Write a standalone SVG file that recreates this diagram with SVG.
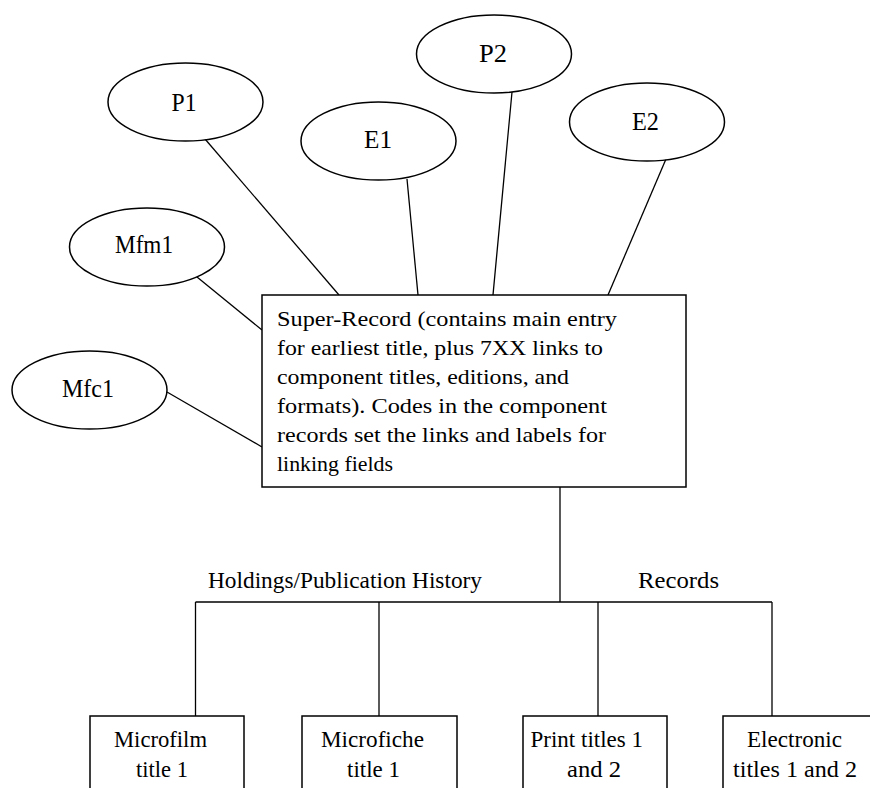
<svg xmlns="http://www.w3.org/2000/svg" width="870" height="788" viewBox="0 0 870 788">
<style>
.sh{fill:#fff;stroke:#000;stroke-width:1.5}
.ln{stroke:#000;stroke-width:1.3;fill:none}
text{font-family:"Liberation Serif","Times New Roman",serif;fill:#000}
.el{font-size:25px}
.bx{font-size:22px}
.lb{font-size:22.5px}
</style>
<rect width="870" height="788" fill="#fff"/>
<g id="connectors">
<line class="ln" x1="205" y1="139" x2="339" y2="295"/>
<line class="ln" x1="407" y1="179" x2="418" y2="295"/>
<line class="ln" x1="512" y1="92" x2="493" y2="295"/>
<line class="ln" x1="666" y1="159" x2="608" y2="295"/>
<line class="ln" x1="197" y1="277" x2="262" y2="330"/>
<line class="ln" x1="167" y1="392" x2="262" y2="447"/>
<line class="ln" x1="560" y1="487" x2="560" y2="602"/>
<line class="ln" x1="195.5" y1="602" x2="772" y2="602"/>
<line class="ln" x1="195.5" y1="602" x2="195.5" y2="716"/>
<line class="ln" x1="379" y1="602" x2="379" y2="716"/>
<line class="ln" x1="598" y1="602" x2="598" y2="716"/>
<line class="ln" x1="772" y1="602" x2="772" y2="716"/>
</g>
<g id="P1"><ellipse class="sh" cx="185.5" cy="102" rx="77.5" ry="39"/><text class="el" x="171.5" y="111" textLength="25" lengthAdjust="spacingAndGlyphs">P1</text></g>
<g id="E1"><ellipse class="sh" cx="378.5" cy="141" rx="77.5" ry="39"/><text class="el" x="364" y="148" textLength="28" lengthAdjust="spacingAndGlyphs">E1</text></g>
<g id="P2"><ellipse class="sh" cx="494" cy="54" rx="77.5" ry="39"/><text class="el" x="479" y="62" textLength="28" lengthAdjust="spacingAndGlyphs">P2</text></g>
<g id="E2"><ellipse class="sh" cx="647" cy="122" rx="77.5" ry="39"/><text class="el" x="632" y="130" textLength="27" lengthAdjust="spacingAndGlyphs">E2</text></g>
<g id="Mfm1"><ellipse class="sh" cx="147" cy="247" rx="77.5" ry="39"/><text class="el" x="115" y="253" textLength="58" lengthAdjust="spacingAndGlyphs">Mfm1</text></g>
<g id="Mfc1"><ellipse class="sh" cx="89.5" cy="390" rx="77.5" ry="39"/><text class="el" x="62" y="397" textLength="52" lengthAdjust="spacingAndGlyphs">Mfc1</text></g>
<g id="super-record">
<rect class="sh" x="262" y="295" width="424" height="192"/>
<text class="bx" x="277" y="326" textLength="340" lengthAdjust="spacingAndGlyphs">Super-Record (contains main entry</text>
<text class="bx" x="277" y="355" textLength="326" lengthAdjust="spacingAndGlyphs">for earliest title, plus 7XX links to</text>
<text class="bx" x="277" y="384" textLength="292" lengthAdjust="spacingAndGlyphs">component titles, editions, and</text>
<text class="bx" x="277" y="413" textLength="330" lengthAdjust="spacingAndGlyphs">formats). Codes in the component</text>
<text class="bx" x="277" y="442" textLength="329" lengthAdjust="spacingAndGlyphs">records set the links and labels for</text>
<text class="bx" x="277" y="471" textLength="116" lengthAdjust="spacingAndGlyphs">linking fields</text>
</g>
<g id="labels">
<text class="lb" x="208" y="588" textLength="274" lengthAdjust="spacingAndGlyphs">Holdings/Publication History</text>
<text class="lb" x="638" y="588" textLength="81" lengthAdjust="spacingAndGlyphs">Records</text>
</g>
<g id="microfilm"><rect class="sh" x="90" y="716" width="154" height="90"/>
<text class="lb" x="114" y="747" textLength="93" lengthAdjust="spacingAndGlyphs">Microfilm</text>
<text class="lb" x="136" y="777" textLength="52" lengthAdjust="spacingAndGlyphs">title 1</text></g>
<g id="microfiche"><rect class="sh" x="302" y="716" width="155" height="90"/>
<text class="lb" x="321" y="747" textLength="103" lengthAdjust="spacingAndGlyphs">Microfiche</text>
<text class="lb" x="347" y="777" textLength="53" lengthAdjust="spacingAndGlyphs">title 1</text></g>
<g id="print"><rect class="sh" x="523" y="716" width="144" height="90"/>
<text class="lb" x="530.5" y="747" textLength="112.5" lengthAdjust="spacingAndGlyphs">Print titles 1</text>
<text class="lb" x="567" y="777" textLength="54" lengthAdjust="spacingAndGlyphs">and 2</text></g>
<g id="electronic"><rect class="sh" x="723" y="716" width="170" height="90"/>
<text class="lb" x="747" y="747" textLength="95" lengthAdjust="spacingAndGlyphs">Electronic</text>
<text class="lb" x="733" y="777" textLength="124" lengthAdjust="spacingAndGlyphs">titles 1 and 2</text></g>
</svg>
